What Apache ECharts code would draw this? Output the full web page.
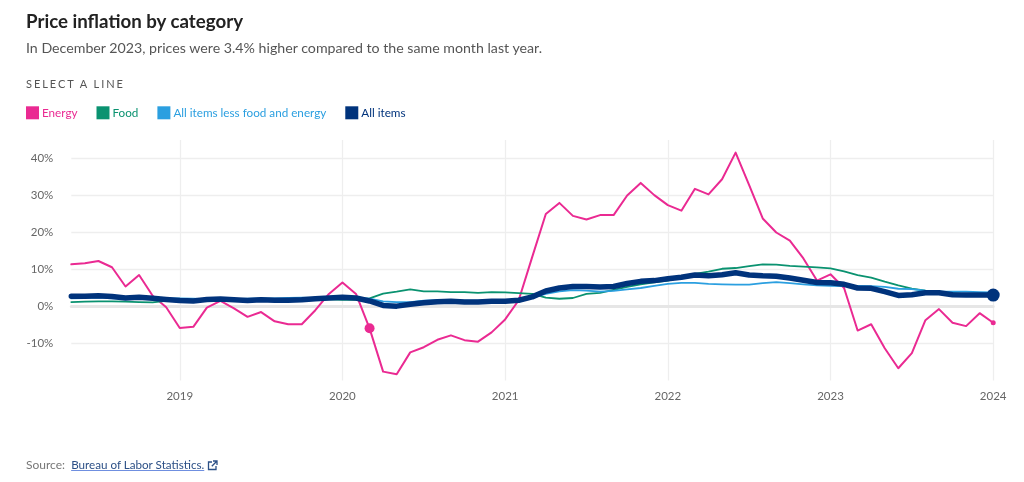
<!DOCTYPE html>
<html><head><meta charset="utf-8">
<script src="https://cdn.jsdelivr.net/npm/echarts@6/dist/echarts.min.js"></script>
<style>
html,body{margin:0;padding:0;background:#fff;width:1024px;height:482px;overflow:hidden;font-family:Lato,sans-serif}
#chart{position:absolute;left:0;top:0;width:1024px;height:482px}
.t{position:absolute;white-space:nowrap;z-index:2}
#title{left:26px;top:9px;font-size:18.7px;font-weight:700;color:#222;line-height:24px}
#sub{left:26px;top:38px;font-size:14.2px;color:#555;line-height:20px}
#sel{left:26px;top:77px;font-size:11px;letter-spacing:1.95px;color:#555;line-height:14px}
#src{left:26px;top:457px;font-size:12px;color:#777;line-height:16px}
#src a{color:#2b4f86;font-size:11.65px;text-decoration:underline;text-decoration-color:#6f8fe0;margin-left:3px}
#src svg{vertical-align:-2px;margin-left:3px}
</style></head><body>
<div id="chart"></div>
<div class="t" id="title">Price inflation by category</div>
<div class="t" id="sub">In December 2023, prices were 3.4% higher compared to the same month last year.</div>
<div class="t" id="sel">SELECT A LINE</div>
<div class="t" id="src">Source: <a>Bureau of Labor Statistics.</a><svg width="11" height="11" viewBox="0 0 11 11" fill="none" stroke="#2b4f86" stroke-width="1.3"><path d="M5 2H1.5v7.5H9V6"/><path d="M6 1h4v4M10 1L4.8 6.2"/></svg></div>
<script>
const months = ["2018-05","2018-06","2018-07","2018-08","2018-09","2018-10","2018-11","2018-12",
"2019-01","2019-02","2019-03","2019-04","2019-05","2019-06","2019-07","2019-08","2019-09","2019-10","2019-11","2019-12",
"2020-01","2020-02","2020-03","2020-04","2020-05","2020-06","2020-07","2020-08","2020-09","2020-10","2020-11","2020-12",
"2021-01","2021-02","2021-03","2021-04","2021-05","2021-06","2021-07","2021-08","2021-09","2021-10","2021-11","2021-12",
"2022-01","2022-02","2022-03","2022-04","2022-05","2022-06","2022-07","2022-08","2022-09","2022-10","2022-11","2022-12",
"2023-01","2023-02","2023-03","2023-04","2023-05","2023-06","2023-07","2023-08","2023-09","2023-10","2023-11","2023-12",
"2024-01"];
const energy = [11.4,11.7,12.3,10.6,5.4,8.5,2.9,-0.2,
-5.8,-5.5,-0.3,1.5,-0.5,-2.8,-1.5,-4,-4.8,-4.8,-1,3.4,
6.5,3.4,-5.9,-17.6,-18.3,-12.4,-11,-9,-7.8,-9.1,-9.5,-7,
-3.5,1.7,13.4,25,28,24.5,23.5,24.7,24.7,30,33.4,30.1,
27.4,25.9,31.8,30.3,34.4,41.6,32.8,23.8,20,17.8,13,7,
8.7,5,-6.5,-4.8,-11.3,-16.7,-12.6,-3.7,-0.7,-4.4,-5.3,-1.8,
-4.4];
const food = [1.2,1.3,1.4,1.4,1.3,1.2,1.1,1.5,
1.7,1.9,1.9,1.9,1.9,1.9,1.8,1.7,1.8,1.8,2,1.9,
1.8,1.8,2.2,3.5,4,4.6,4.1,4.1,3.9,3.9,3.7,3.9,
3.8,3.6,3.4,2.4,2.1,2.3,3.4,3.7,4.5,5.3,6,6.5,
7,7.9,8.8,9.4,10.2,10.4,10.9,11.4,11.3,11,10.8,10.6,
10.3,9.5,8.5,7.8,6.7,5.7,4.8,4.3,4,3.7,3.3,3.1,
2.9];
const core = [2.2,2.3,2.4,2.2,2.2,2.1,2.2,2.2,
2.2,2.1,2,2.1,2,2.1,2.2,2.2,2.3,2.4,2.3,2.3,
2.3,2.4,2.1,1.4,1.2,1.2,1.6,1.7,1.7,1.6,1.6,1.6,
1.4,1.3,2.4,3.4,4.1,4.4,4.3,4,4.2,4.6,5,5.6,
6.1,6.4,6.4,6.1,6,5.9,5.9,6.3,6.6,6.3,6,5.7,
5.6,5.5,5.6,5.5,5.3,4.8,4.7,4.3,4.1,4,4,3.9,
3.8];
const allItems = [2.8,2.8,2.9,2.7,2.3,2.5,2.2,1.9,
1.6,1.5,1.9,2,1.8,1.6,1.8,1.7,1.7,1.8,2.1,2.3,
2.5,2.3,1.5,0.3,0.1,0.6,1,1.3,1.4,1.2,1.2,1.4,
1.4,1.7,2.6,4.2,5,5.4,5.4,5.3,5.4,6.2,6.8,7,
7.5,7.9,8.5,8.3,8.6,9.1,8.5,8.3,8.2,7.7,7.1,6.5,
6.4,6,5,4.9,4,3,3.2,3.7,3.7,3.2,3.1,3.1,
3.1];
const seriesNames = ["Energy","Food","All items less food and energy","All items"];
const seriesColors = ["#ea2a92","#0a9270","#2b9fe0","#00337c"];
const yTicks = [-10,0,10,20,30,40];

const isJan = (i, v) => v.endsWith("-01");
const chart = echarts.init(document.getElementById("chart"), null, {renderer:"canvas"});
const line = (idx, data, width, sizes) => ({
  name: seriesNames[idx], type:"line", data, smooth:false, silent:true,
  color: seriesColors[idx], z: 2+idx,
  lineStyle:{width, color:seriesColors[idx], join:"round", cap:"round"},
  itemStyle:{color:seriesColors[idx]},
  symbol:"circle", showAllSymbol:true,
  symbolSize:(v,p)=> sizes[p.dataIndex] || 0,
  emphasis:{disabled:true}, animation:false
});
chart.setOption({
  animation:false,
  grid:{left:71.3,right:30.8,top:140,bottom:101.5,containLabel:false},
  legend:{
    left:26, top:106.3, itemWidth:13, itemHeight:13, itemGap:19, icon:"rect",
    selectedMode:false, padding:0,
    textStyle:{fontFamily:"Lato",fontSize:11.7,padding:[0,0,0,-2]},
    data: seriesNames.map((n,i)=>({name:n,icon:"rect",textStyle:{color:seriesColors[i]}}))
  },
  xAxis:[{
    type:"category", data:months, boundaryGap:false,
    axisLine:{show:false,onZero:false}, axisTick:{show:false},
    axisLabel:{interval:isJan,formatter:v=>v.slice(0,4),color:"#666",fontFamily:"Lato",fontSize:11.5,margin:10,hideOverlap:false},
    splitLine:{show:true,interval:isJan,lineStyle:{color:"#eeeeee",width:1.3}}
  },{
    type:"category", data:months, boundaryGap:false, position:"bottom",
    axisLine:{show:true,onZero:true,lineStyle:{color:"#e6e6e6",width:3}},
    axisTick:{show:false}, axisLabel:{show:false}, splitLine:{show:false}
  }],
  yAxis:{
    type:"value", min:-20, max:45, interval:10,
    axisLine:{show:false}, axisTick:{show:false},
    axisLabel:{color:"#666",fontFamily:"Lato",fontSize:11.5,margin:18,
      formatter:v=>yTicks.includes(v)?(v+"%"):""},
    splitLine:{show:true,showMinLine:false,showMaxLine:false,lineStyle:{color:"#eeeeee",width:1.3}}
  },
  series:[
    line(0,energy,2,{22:10,68:5}),
    line(1,food,1.8,{}),
    line(2,core,1.8,{}),
    line(3,allItems,5.5,{68:13})
  ]
});
</script>
</body></html>
